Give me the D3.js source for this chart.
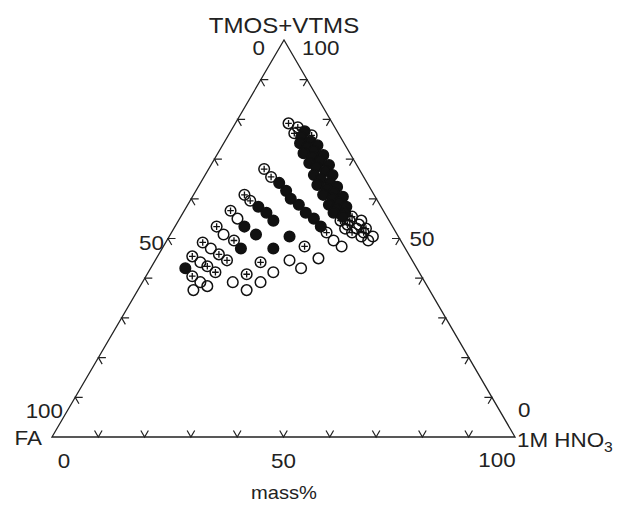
<!DOCTYPE html>
<html>
  <head>
    <meta http-equiv="Content-Type" content="text/html;charset=utf-8"/>
    <title>Ternary diagram</title>
    <script src="https://d3js.org/d3.v7.min.js"></script>
    <style>
      body { margin: 0; background: #fff; }
      text { font-family: "Liberation Sans", Arial, sans-serif; fill: #222; }
    </style>
  </head>
  <body>
    <div id="content"></div>
    <script type="text/javascript">

        // [TMOS+VTMS mass%, 1M HNO3 mass%]  (FA = 100 - both)
        const filledPts = [
            [77, 16],
            [75.5, 16], [74.5, 18.5], [73.5, 20.5],
            [74, 16.5], [73, 18.5], [72, 20.5], [71, 23],
            [71.5, 18.5], [70.5, 21], [69.5, 23], [68.5, 25.5],
            [69, 21], [68, 23], [67, 25.5], [66, 27.5],
            [66, 23.5], [65, 25.5], [64, 28], [63, 30],
            [63.5, 25.5], [62.5, 28], [61.5, 30], [60.5, 32.5],
            [61, 28], [60, 30.5], [59, 32.5], [58, 34.5],
            [58.5, 30.5], [57.5, 32.5], [56.5, 35],
            [56.5, 32.5], [55.5, 35],
            [64, 17], [62, 19.5], [60, 21.5], [58.5, 24], [56.5, 26.5], [55, 29], [53, 31.5],
            [58, 15.5], [56.5, 18], [54.5, 20.5],
            [53, 15], [51, 18.5],
            [47.5, 17],
            [42.5, 7.5],
            [47.5, 24], [50.5, 26]
        ]
        const crossPts = [
            [79, 11.5], [78, 14], [76, 18], [76.5, 14],
            [55.5, 37], [54.5, 37], [52.5, 41.5], [54.5, 35], [53.5, 37], [51.5, 41.5], [51.5, 39],
            [67.5, 12], [65.5, 14.5], [51.5, 33.5],
            [61, 11], [59.5, 13], [57, 10], [53, 9], [49.5, 14.5], [49, 8], [46, 13], [44.5, 15.5],
            [45.5, 7.5], [43, 12], [41.5, 14.5], [40.5, 10],
            [48, 30.5], [44, 23], [41, 21.5]
        ]
        const openPts = [
            [54.5, 39.5], [53.5, 39.5], [52.5, 39.5], [50.5, 44], [52.5, 37], [50.5, 41.5], [49.5, 43.5],
            [49.5, 36], [48, 38.5],
            [55, 12.5], [51, 11.5], [47.5, 10.5], [44, 10], [39, 12.5], [37, 12], [38, 14.5],
            [44.5, 29], [42.5, 32.5], [45, 35], [41.5, 27], [39, 25.5], [39, 19.5], [37, 23.5]
        ]

        const ticks = [10, 20, 30, 40, 50, 60, 70, 80, 90]
        const tickLabels = ['0', '50', '100']

        const width = 618,
            height = 505

        // ternary -> pixel: x = hx(H) + tx(T), y = ty(T)
        const hx = d3.scaleLinear().domain([0, 100]).range([52, 515])
        const tx = d3.scaleLinear().domain([0, 100]).range([0, 232])
        const ty = d3.scaleLinear().domain([0, 100]).range([437, 40])

        const px = (t, h) => [hx(h) + tx(t), ty(t)]

        const svg = d3.select('#content').append('svg')
            .attr('width', width).attr('height', height)

        const A = px(0, 0), B = px(0, 100), C = px(100, 0)

        svg.append('path')
            .attr('d', 'M' + A + 'L' + B + 'L' + C + 'Z')
            .attr('fill', 'none')
            .attr('stroke', '#222')
            .attr('stroke-width', 1.3)
            .attr('stroke-linejoin', 'miter')

        // chevron ticks: two short arms along the other grid directions
        const arm = 7.5
        const unit = (p, q) => {
            const dx = q[0] - p[0], dy = q[1] - p[1], l = Math.hypot(dx, dy)
            return [dx / l * arm, dy / l * arm]
        }
        const upLeft = unit(B, C), upRight = unit(A, C)
        const downRight = unit(C, B), downLeft = unit(C, A)
        const right = [arm, 0], left = [-arm, 0]

        function chevron(p, a, b) {
            return 'M' + [p[0] + a[0], p[1] + a[1]] + 'L' + p + 'L' + [p[0] + b[0], p[1] + b[1]]
        }

        const tickG = svg.append('g')
            .attr('fill', 'none').attr('stroke', '#222').attr('stroke-width', 1.2)

        // bottom edge (HNO3)
        tickG.selectAll('.tb').data(ticks).enter().append('path')
            .attr('d', d => chevron(px(0, d), upLeft, upRight))
        // left edge (FA)
        tickG.selectAll('.tl').data(ticks).enter().append('path')
            .attr('d', d => chevron(px(d, 0), right, downRight))
        // right edge (TMOS+VTMS)
        tickG.selectAll('.tr').data(ticks).enter().append('path')
            .attr('d', d => chevron(px(d, 100 - d), left, downLeft))

        const r = 5.3
        const pts = svg.append('g').attr('stroke', '#111').attr('stroke-width', 1.5)

        pts.selectAll('.open').data(openPts).enter().append('circle')
            .attr('cx', d => px(d[0], d[1])[0])
            .attr('cy', d => px(d[0], d[1])[1])
            .attr('r', r)
            .attr('fill', 'none')

        const cross = pts.selectAll('.cross').data(crossPts).enter().append('g')
            .attr('transform', d => 'translate(' + px(d[0], d[1]) + ')')
        cross.append('circle').attr('r', r).attr('fill', 'none')
        cross.append('path').attr('d', 'M-3.3,0H3.3M0,-3.3V3.3').attr('stroke-width', 1.3)

        pts.selectAll('.filled').data(filledPts).enter().append('circle')
            .attr('cx', d => px(d[0], d[1])[0])
            .attr('cy', d => px(d[0], d[1])[1])
            .attr('r', r)
            .attr('fill', '#111')

        function label(txt, x, y, anchor, size) {
            return svg.append('text')
                .attr('transform', 'translate(' + x + ',' + y + ') scale(1.12,1)')
                .attr('text-anchor', anchor)
                .attr('font-size', size)
                .text(txt)
        }

        // corner names
        label('TMOS+VTMS', C[0], 33, 'middle', 21.5)
        label('FA', A[0] - 10, A[1] + 8, 'end', 20)
        const hn = label('1M HNO', B[0] + 2, B[1] + 10, 'start', 20)
        hn.append('tspan').attr('font-size', 14).attr('dy', 5).text('3')
        label('mass%', C[0], 499, 'middle', 18)

        // bottom axis
        label(tickLabels[0], A[0] + 12, A[1] + 31, 'middle', 20)
        label(tickLabels[1], hx(50), A[1] + 31, 'middle', 20)
        label(tickLabels[2], B[0] - 18, A[1] + 30, 'middle', 20)

        // left axis (FA)
        label(tickLabels[2], A[0] + 11, A[1] - 19, 'end', 20)
        label(tickLabels[1], px(50, 0)[0] - 4, px(50, 0)[1] + 11, 'end', 20)
        label(tickLabels[0], C[0] - 19, C[1] + 15, 'end', 20)

        // right axis (TMOS+VTMS)
        label(tickLabels[0], B[0] + 3, B[1] - 20, 'start', 20)
        label(tickLabels[1], px(50, 50)[0] + 10, px(50, 50)[1] + 7, 'start', 20)
        label(tickLabels[2], C[0] + 18, C[1] + 15, 'start', 20)

    </script>
  </body>
</html>
